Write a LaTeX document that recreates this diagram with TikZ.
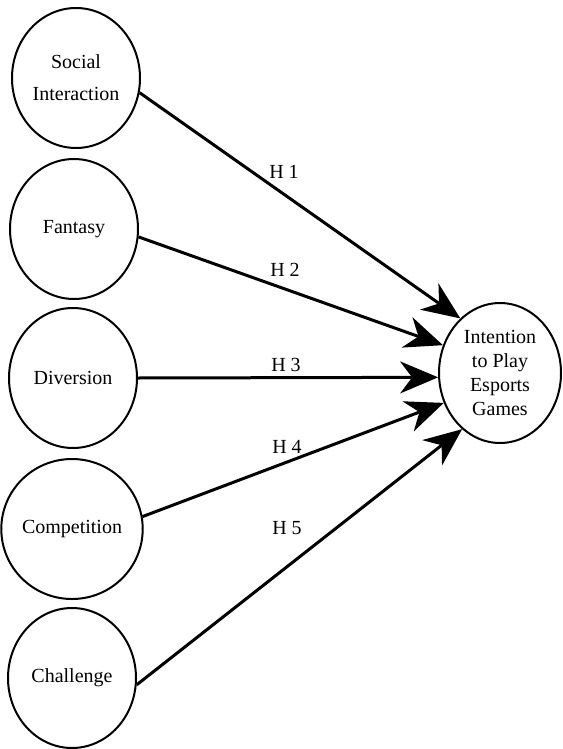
\documentclass[tikz,border=0pt]{standalone}
\usepackage{fontspec}
\setmainfont{Liberation Serif}
\usetikzlibrary{shapes.geometric, arrows.meta, positioning}
\tikzset{
  construct/.style={draw, ellipse, line width=1pt, minimum width=64pt,
    minimum height=70pt, inner sep=0pt, align=center,
    font=\fontsize{10}{12}\selectfont},
  hyp/.style={-{Stealth[length=19pt, width=16pt, inset=6pt]}, line width=1.5pt},
  hlabel/.style={font=\fontsize{10}{12}\selectfont}
}

\begin{document}
\begin{tikzpicture}[x=0.5pt, y=-0.5pt]
    \useasboundingbox (0,0) rectangle (562,749);

    % motives
    \node[construct] (social) at (76,78) {Social\\[4pt]Interaction};
    \node[construct] (fantasy) at (74,229) {Fantasy};
    \node[construct] (diversion) at (73,378) {Diversion};
    \node[construct] (competition) at (72,529) {Competition};
    \node[construct] (challenge) at (72,678) {Challenge};

    % outcome
    \node[construct, minimum width=61pt] (intention) at (500,373)
      {Intention\\to Play\\Esports\\Games};

    % hypotheses
    \draw[hyp] (social.-13) -- (intention.126);
    \draw[hyp] (fantasy.-7) -- (intention.154);
    \draw[hyp] (diversion.0) -- (intention.184);
    \draw[hyp] (competition.10) -- (intention.208);
    \draw[hyp] (challenge.-6) -- (intention.236);

    \node[hlabel] (h1) at (284,172) {H 1};
    \node[hlabel] (h2) at (285,270) {H 2};
    \node[hlabel] (h3) at (286,365) {H 3};
    \node[hlabel] (h4) at (287,447) {H 4};
    \node[hlabel] (h5) at (287,528) {H 5};
\end{tikzpicture}
\end{document}
